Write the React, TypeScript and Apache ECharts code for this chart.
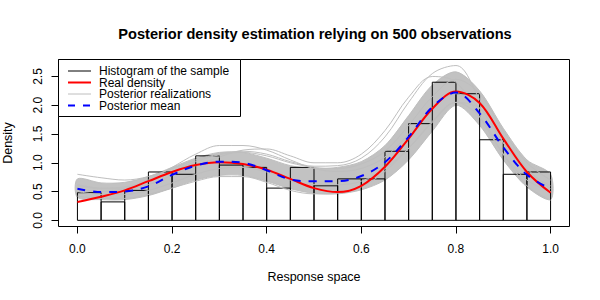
import React, { useEffect, useRef } from 'react';
import * as echarts from 'echarts';

const FONT = '"Liberation Sans", Arial, sans-serif';

const xGrid = [0, 0.05, 0.1, 0.15, 0.2, 0.25, 0.3, 0.35, 0.4, 0.45, 0.5, 0.55, 0.6, 0.65, 0.7, 0.75, 0.8, 0.85, 0.9, 0.95, 1.0];
const binWidth = 0.05;
const binStarts = [0, 0.05, 0.1, 0.15, 0.2, 0.25, 0.3, 0.35, 0.4, 0.45, 0.5, 0.55, 0.6, 0.65, 0.7, 0.75, 0.8, 0.85, 0.9, 0.95];
const histDensity = [0.48, 0.32, 0.52, 0.84, 0.8, 1.12, 0.96, 0.92, 0.56, 0.92, 0.6, 0.72, 0.72, 1.2, 1.68, 2.4, 2.2, 1.4, 0.8, 0.84];

const realDensity = [0.32, 0.41, 0.52, 0.68, 0.84, 0.96, 1.01, 0.98, 0.88, 0.72, 0.56, 0.49, 0.6, 0.93, 1.42, 1.94, 2.24, 2.04, 1.42, 0.84, 0.48];
const posteriorMean = [0.55, 0.49, 0.5, 0.59, 0.79, 0.95, 1.02, 1.0, 0.87, 0.71, 0.68, 0.68, 0.77, 1.01, 1.45, 1.97, 2.22, 1.86, 1.27, 0.79, 0.55];

const bandLower = [0.4, 0.36, 0.36, 0.43, 0.56, 0.7, 0.78, 0.78, 0.68, 0.55, 0.47, 0.46, 0.53, 0.7, 1.05, 1.55, 2.0, 1.65, 1.05, 0.58, 0.36];
const bandUpper = [0.72, 0.65, 0.66, 0.76, 0.92, 1.08, 1.18, 1.18, 1.08, 0.95, 0.9, 0.92, 1.02, 1.3, 1.82, 2.35, 2.58, 2.25, 1.6, 1.05, 0.8];

const realization1 = [0.8, 0.74, 0.7, 0.76, 0.9, 1.05, 1.15, 1.18, 1.12, 1.0, 0.92, 0.9, 0.98, 1.2, 1.65, 2.15, 2.45, 2.2, 1.55, 1.0, 0.7];
const realization2 = [0.62, 0.56, 0.58, 0.68, 0.85, 1.02, 1.14, 1.2, 1.15, 1.02, 0.94, 0.95, 1.08, 1.45, 2.05, 2.55, 2.69, 2.1, 1.35, 0.85, 0.6];
const realization3 = [0.6, 0.55, 0.55, 0.62, 0.78, 0.95, 1.1, 1.22, 1.24, 1.12, 1.0, 1.0, 1.15, 1.56, 2.14, 2.5, 2.4, 1.8, 1.15, 0.7, 0.5];
const realization4 = [0.55, 0.5, 0.55, 0.7, 0.92, 1.15, 1.3, 1.3, 1.22, 1.05, 0.9, 0.85, 0.9, 1.1, 1.5, 1.95, 2.2, 1.95, 1.35, 0.82, 0.5];
const realization5 = [0.42, 0.38, 0.38, 0.45, 0.56, 0.68, 0.76, 0.76, 0.66, 0.52, 0.46, 0.47, 0.58, 0.85, 1.25, 1.72, 2.05, 1.95, 1.45, 0.9, 0.55];
const realization6 = [0.5, 0.45, 0.45, 0.52, 0.65, 0.8, 0.9, 0.92, 0.84, 0.7, 0.62, 0.62, 0.68, 0.9, 1.25, 1.7, 2.05, 1.8, 1.15, 0.6, 0.35];

const xTicks = [0, 0.2, 0.4, 0.6, 0.8, 1.0];
const yTicks = [0, 0.5, 1.0, 1.5, 2.0, 2.5];

const legendLabels = ['Histogram of the sample', 'Real density', 'Posterior realizations', 'Posterior mean'];

const GREY = '#BEBEBE';
const SMOOTH = 0.35;

const pairs = (ys: number[]) => xGrid.map((x, i) => [x, ys[i]]);

export default function App() {
  const ref = useRef<HTMLDivElement>(null);
  useEffect(() => {
    if (!ref.current) return;
    const chart = echarts.init(ref.current, undefined, { renderer: 'svg' });

    const realizationLines = [realization1, realization2, realization3, realization4, realization5, realization6].map((r, k) => ({
      name: 'Posterior realizations',
      id: 'real' + k,
      type: 'line',
      data: pairs(r),
      smooth: SMOOTH,
      symbol: 'none',
      lineStyle: { color: GREY, width: 1 },
      silent: true,
    }));

    const legendRowY = [71, 82.5, 94, 105.5];
    const legendStyles = [
      { stroke: '#000', lineWidth: 1 },
      { stroke: '#FF0000', lineWidth: 2 },
      { stroke: GREY, lineWidth: 1 },
      { stroke: '#0000FF', lineWidth: 2, lineDash: [7, 8] },
    ];
    const legendGraphics: any[] = [
      {
        type: 'rect',
        z: 100,
        shape: { x: 58.5, y: 59.5, width: 182, height: 57 },
        style: { fill: '#fff', stroke: '#000', lineWidth: 1 },
      },
    ];
    legendLabels.forEach((lab, i) => {
      legendGraphics.push({
        type: 'line',
        z: 101,
        shape: { x1: 68, y1: legendRowY[i], x2: 91, y2: legendRowY[i] },
        style: legendStyles[i],
      });
      legendGraphics.push({
        type: 'text',
        z: 101,
        x: 99,
        y: legendRowY[i],
        style: {
          text: lab,
          font: `12px ${FONT}`,
          lineHeight: 11,
          fill: '#000',
          verticalAlign: 'middle',
          textAlign: 'left',
        },
      });
    });

    chart.setOption({
      animation: false,
      textStyle: { fontFamily: FONT },
      title: {
        text: 'Posterior density estimation relying on 500 observations',
        left: 310,
        textAlign: 'center',
        top: 21,
        textStyle: { fontFamily: FONT, fontWeight: 'bold', fontSize: 14.6, color: '#000' },
      },
      grid: {
        left: 58.5,
        top: 59.5,
        width: 511,
        height: 167,
        show: true,
        borderColor: '#000',
        borderWidth: 1,
        backgroundColor: 'transparent',
        containLabel: false,
        outerBoundsMode: 'none',
      },
      xAxis: {
        type: 'value',
        min: -0.04,
        max: 1.04,
        splitLine: { show: false },
        axisLine: { show: false, onZero: false },
        axisTick: { show: true, customValues: xTicks, length: 7, lineStyle: { color: '#000', width: 1 } },
        axisLabel: {
          customValues: xTicks,
          formatter: (v: number) => v.toFixed(1),
          color: '#000',
          fontSize: 12,
          fontFamily: FONT,
          margin: 16,
        },
        name: 'Response space',
        nameLocation: 'middle',
        nameGap: 44,
        nameTextStyle: { color: '#000', fontSize: 12.5, fontFamily: FONT },
      },
      yAxis: {
        type: 'value',
        min: -0.1075,
        max: 2.795,
        splitLine: { show: false },
        axisLine: { show: false, onZero: false },
        axisTick: { show: true, customValues: yTicks, length: 7, lineStyle: { color: '#000', width: 1 } },
        axisLabel: {
          customValues: yTicks,
          formatter: (v: number) => v.toFixed(1),
          color: '#000',
          fontSize: 12,
          fontFamily: FONT,
          rotate: 90,
          margin: 15,
        },
        name: 'Density',
        nameLocation: 'middle',
        nameGap: 44,
        nameRotate: 90,
        nameTextStyle: { color: '#000', fontSize: 12.5, fontFamily: FONT },
      },
      series: [
        {
          name: 'Posterior band',
          type: 'custom',
          data: [[0, 0]],
          silent: true,
          renderItem: (params: any, api: any) => {
            const top = xGrid.map((x, i) => api.coord([x, bandUpper[i]]));
            const bottom = xGrid.map((x, i) => api.coord([x, bandLower[i]])).reverse();
            return {
              type: 'group',
              children: [
                {
                  type: 'polygon',
                  shape: { points: top.concat(bottom), smooth: 0.3 },
                  style: { fill: '#C2C2C2', stroke: GREY, lineWidth: 1 },
                },
              ],
            };
          },
        },
        ...realizationLines,
        {
          name: 'Histogram of the sample',
          type: 'custom',
          data: binStarts.map((b, i) => [b, b + binWidth, histDensity[i]]),
          encode: { x: [0, 1], y: 2 },
          renderItem: (params: any, api: any) => {
            const p0 = api.coord([api.value(0), api.value(2)]);
            const p1 = api.coord([api.value(1), 0]);
            return {
              type: 'rect',
              shape: { x: p0[0], y: p0[1], width: p1[0] - p0[0], height: p1[1] - p0[1] },
              style: { fill: 'none', stroke: '#000', lineWidth: 1 },
            };
          },
          silent: true,
        },
        {
          name: 'Real density',
          type: 'line',
          data: pairs(realDensity),
          smooth: SMOOTH,
          symbol: 'none',
          lineStyle: { color: '#FF0000', width: 2 },
          silent: true,
        },
        {
          name: 'Posterior mean',
          type: 'line',
          data: pairs(posteriorMean),
          smooth: SMOOTH,
          symbol: 'none',
          lineStyle: { color: '#0000FF', width: 2, type: [8, 8] },
          silent: true,
        },
      ],
      graphic: legendGraphics,
    });

    return () => chart.dispose();
  }, []);

  return (
    <div
      ref={ref}
      style={{ position: 'fixed', left: 0, top: 0, width: 600, height: 300, background: '#fff' }}
    />
  );
}
